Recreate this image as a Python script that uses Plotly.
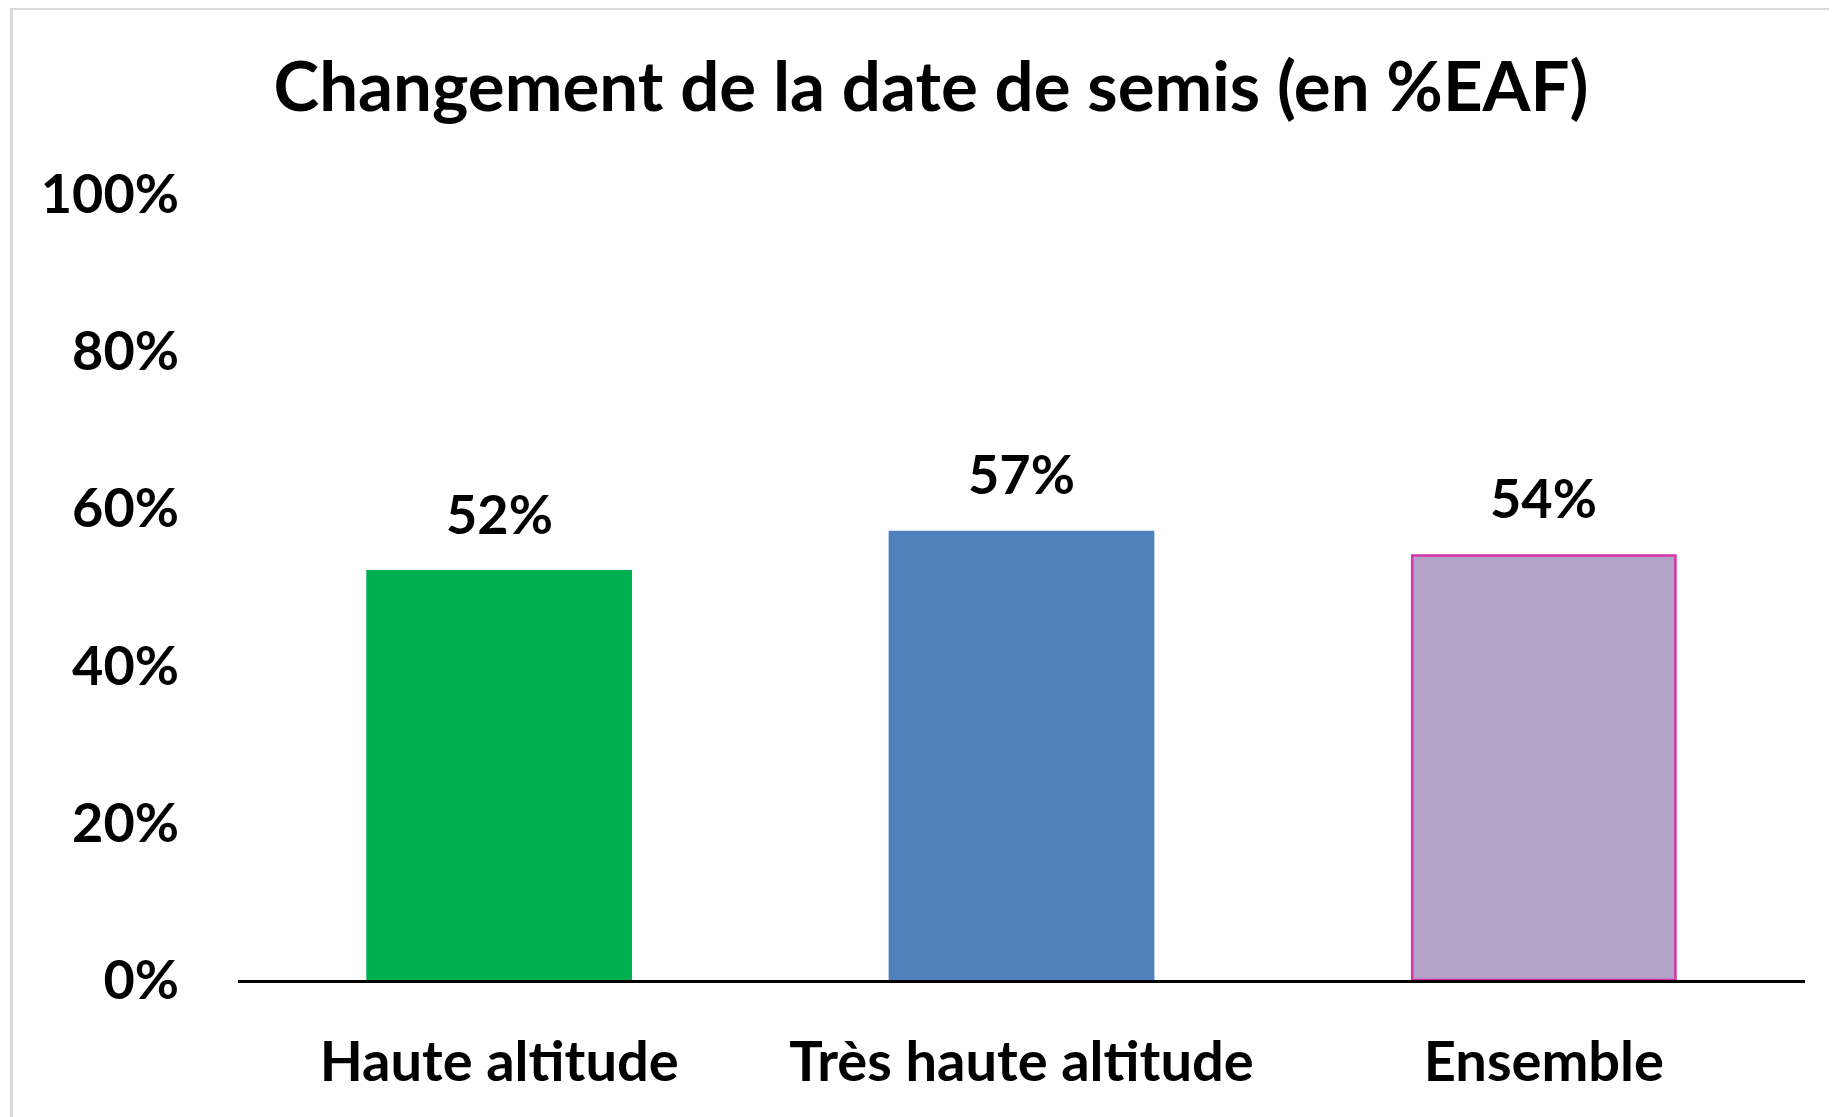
import plotly.graph_objects as go

categories = ["Haute altitude", "Très haute altitude", "Ensemble"]
values = [0.52, 0.57, 0.54]
labels = ["52%", "57%", "54%"]
fill_colors = ["#00B050", "#4F81BD", "#B2A2C7"]
line_colors = ["#00B050", "#4F81BD", "#D633A8"]
title_text = "Changement de la date de semis (en %EAF)"
tick_vals = [0, 0.2, 0.4, 0.6, 0.8, 1.0]
tick_text = ["0%", "20%", "40%", "60%", "80%", "100%"]

FONT = "Lato"
# page body has an 8px margin; figure coordinates are page coordinates minus 8
W, H = 1829, 1109
L, T = 230, 186
R = W - (1805 - 8)
B = H - (980 - 8)

fig = go.Figure()
fig.add_trace(go.Bar(
    x=categories, y=values,
    marker=dict(color=fill_colors, line=dict(color=line_colors, width=2.5)),
    width=0.504, hoverinfo="skip",
))

for c, v, t in zip(categories, values, labels):
    fig.add_annotation(x=c, y=v, text=f"<b>{t}</b>", showarrow=False,
                       xref="x", yref="y", yanchor="middle", yshift=58,
                       font=dict(family=FONT, size=54, color="#000000"))

pw = W - L - R
ph = H - T - B
fig.add_shape(type="rect", xref="paper", yref="paper",
              x0=(3.5 - L) / pw, x1=(W + 10 - L) / pw,
              y0=-(H + 10 - T - ph) / ph, y1=(H - B - 0.5) / ph,
              line=dict(color="#D9D9D9", width=3), layer="below")

fig.update_layout(
    width=W, height=H,
    margin=dict(l=L, r=R, t=T, b=B),
    paper_bgcolor="white", plot_bgcolor="white",
    title=dict(text=f"<b>{title_text}</b>", x=923 / W, xanchor="center",
               y=1 - 79 / H, yanchor="middle", xref="container", yref="container",
               font=dict(family=FONT, size=69, color="#000000")),
    showlegend=False,
    bargap=0.5,
)
fig.update_xaxes(showline=True, linecolor="#000000", linewidth=2.5,
                 tickfont=dict(family=FONT, size=56, color="#000000"),
                 ticks="", showgrid=False, zeroline=False,
                 tickvals=categories,
                 ticktext=[f"<b>{c}</b>" for c in categories],
                 ticklabelstandoff=31)
fig.update_yaxes(range=[0, 1], tickvals=tick_vals,
                 ticktext=[f"<b>{t}</b>" for t in tick_text],
                 tickfont=dict(family=FONT, size=54, color="#000000"),
                 showgrid=False, zeroline=False, showline=False, ticks="",
                 ticklabelstandoff=58)

fig.write_html("out.html")
